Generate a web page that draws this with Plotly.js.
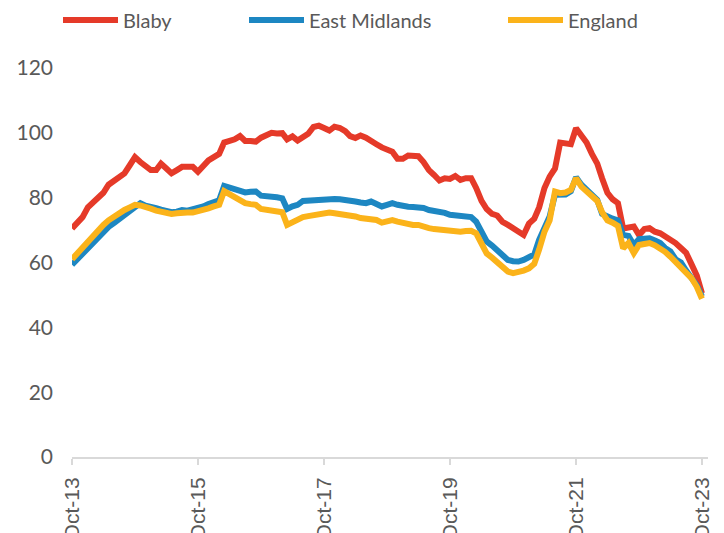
<!DOCTYPE html>
<html>
<head>
<meta charset="utf-8">
<script src="https://cdn.plot.ly/plotly-3.0.1.min.js"></script>
<style>html,body{margin:0;padding:0;background:#fff;}#chart{width:724px;height:533px;}</style>
</head>
<body>
<div id="chart"></div>
<script>
// Monthly series, Oct-2013 .. Oct-2023 (121 months)
const seriesNames = ["Blaby", "East Midlands", "England"];
const blaby = [
70.5,72,74,77,78.5,79.5,81.5,84,85,86.5,87.5,90,92.5,91,90,88.5,88.5,90.5,89,87.5,
88.5,89.5,89.5,89.5,88,90,91.5,92.5,93.5,97,97.5,98,99,97.5,97.5,97.3,98.5,99.5,100,99.8,
99.9,98,98.9,97.6,98.5,99.7,101.8,102.2,101.5,100.7,101.9,101.5,100.5,99,98.4,99.2,98.5,97.3,96.5,95.5,
95,94.2,92,92,93,93,92.8,91,88.5,87,85.3,86,85.8,86.7,85.5,86,86,83,79,76.5,
75,74.5,72.5,71.6,70.5,69.5,68.5,72,73.5,77,83,86.5,89,97,96.8,96.5,101.4,99.5,97,93.5,
90.5,86,81.5,79.5,78.3,70.5,70.8,71.1,68.5,70.3,70.6,69.5,69,68.2,67,66,64.5,63,59.5,56,
50.5];
const eastMidlands = [
59.3,61,63,64.8,66.5,68,69.5,71,72.2,73.5,74.7,76,77.5,78.3,77.5,77.3,76.8,76.3,75.7,75.5,
75.7,76.2,76,76.3,76.7,77.3,78,78.6,79.2,83.6,83,82.6,82,81.6,81.8,81.9,80.6,80.5,80.5,80.1,
79.8,76.5,77.3,77.8,79,79.1,79.1,79.3,79.6,79.8,79.6,79.5,79.4,79.1,78.8,78.5,78.3,78.8,77.8,77.3,
77.8,78.3,77.8,77.3,77.2,77.1,77.1,76.8,76.2,76,75.7,75.3,74.7,74.5,74.2,74.1,74,72.6,69,66.5,
65.2,63.8,62.3,60.8,60.4,60.3,60.8,61.8,62.5,67,71.3,74.2,80.9,80.9,81,82,86.3,84,82.4,81,
79.3,75,74,73.5,73,68.5,68.2,65.4,67.2,67.3,67.5,66.8,66,64.5,63.4,61,60,57.5,55.5,53,
49.5];
const england = [
61,62.8,64.8,66.8,68.5,70.2,71.6,73,74.2,75.3,76.2,77,77.8,77.6,77.3,76.6,76,75.7,75.2,75,
75.2,75.5,75.4,75.4,75.7,76.2,76.7,77.3,77.8,82,81,80,79.3,78.3,78,77.8,76.5,76.2,76,75.7,
75.5,71.6,72.5,73.2,74,74.3,74.6,74.8,75.2,75.4,75.2,75,74.8,74.3,74.2,73.7,73.4,73.2,73.1,72.3,
72.6,73.1,72.6,72.1,71.9,71.6,71.6,71,70.6,70.3,70.1,69.9,69.7,69.5,69.5,69.7,69.8,69,65.5,62.8,
61.5,60.2,58.5,57.2,56.7,56.9,57.5,58.2,59.6,64,69.5,73,81.9,81.4,81.6,82.4,86,83.4,81.9,80.3,
79,75.5,73,72.3,71.3,64.4,66,62.9,65.4,65.7,66,65.3,64.4,63.3,61.8,60.3,58.7,57,55.2,52.5,
48.8];
const tickDates = ["2013-10-01","2015-10-01","2017-10-01","2019-10-01","2021-10-01","2023-10-01"];
const tickLabels = ["Oct-13","Oct-15","Oct-17","Oct-19","Oct-21","Oct-23"];
const yTicks = [0,20,40,60,80,100,120];

// month category dates
const months = [];
for (let i = 0; i < blaby.length; i++) {
  const y = 2013 + Math.floor((9 + i) / 12);
  const m = (9 + i) % 12 + 1;
  months.push(y + "-" + String(m).padStart(2, "0") + "-01");
}

const colors = ["#E53A29", "#1D87C2", "#FBB31A"];
const values = [blaby, eastMidlands, england];

const traces = values.map((v, k) => ({
  type: "scatter", mode: "lines", name: seriesNames[k],
  x: months, y: v,
  line: {color: colors[k], width: 6},
  showlegend: false, hoverinfo: "skip"
}));

// plot area geometry (px)
const L = 72, R = 16, T = 68, B = 76;
const W = 724 - L - R, H = 533 - T - B;
const px = x => (x - L) / W;
const py = y => (533 - B - y) / H;

// manual legend
const legendItems = [
  {x0: 63, x1: 118, tx: 121},
  {x0: 249, x1: 304, tx: 307},
  {x0: 508, x1: 563, tx: 566}
];
const shapes = legendItems.map((it, k) => ({
  type: "line", xref: "paper", yref: "paper",
  x0: px(it.x0), x1: px(it.x1), y0: py(20), y1: py(20),
  line: {color: colors[k], width: 6}
}));
const annotations = legendItems.map((it, k) => ({
  xref: "paper", yref: "paper", x: px(it.tx), y: py(20),
  xanchor: "left", yanchor: "middle", showarrow: false,
  text: seriesNames[k],
  font: {family: "Lato, 'Open Sans', sans-serif", size: 20, color: "#595959"}
}));

const layout = {
  width: 724, height: 533,
  margin: {l: L, r: R, t: T, b: B},
  paper_bgcolor: "#ffffff", plot_bgcolor: "#ffffff",
  showlegend: false,
  xaxis: {
    type: "date",
    range: ["2013-10-01", "2023-11-05"],
    tickmode: "array", tickvals: tickDates, ticktext: tickLabels,
    tickangle: -90,
    tickfont: {family: "'Liberation Sans', Arial, sans-serif", size: 21, color: "#595959"},
    ticks: "outside", ticklen: 6, tickcolor: "#D9D9D9", tickwidth: 1.5,
    showline: true, linecolor: "#D9D9D9", linewidth: 2,
    showgrid: false, zeroline: false,
    ticklabelstandoff: 4
  },
  yaxis: {
    range: [0, 120],
    tickmode: "array", tickvals: yTicks,
    tickfont: {family: "Lato, 'Open Sans', sans-serif", size: 21, color: "#595959"},
    ticks: "", showline: false, showgrid: false, zeroline: false,
    ticklabelstandoff: 18
  },
  shapes: shapes,
  annotations: annotations
};

Plotly.newPlot("chart", traces, layout, {displayModeBar: false, staticPlot: true});
</script>
</body>
</html>
